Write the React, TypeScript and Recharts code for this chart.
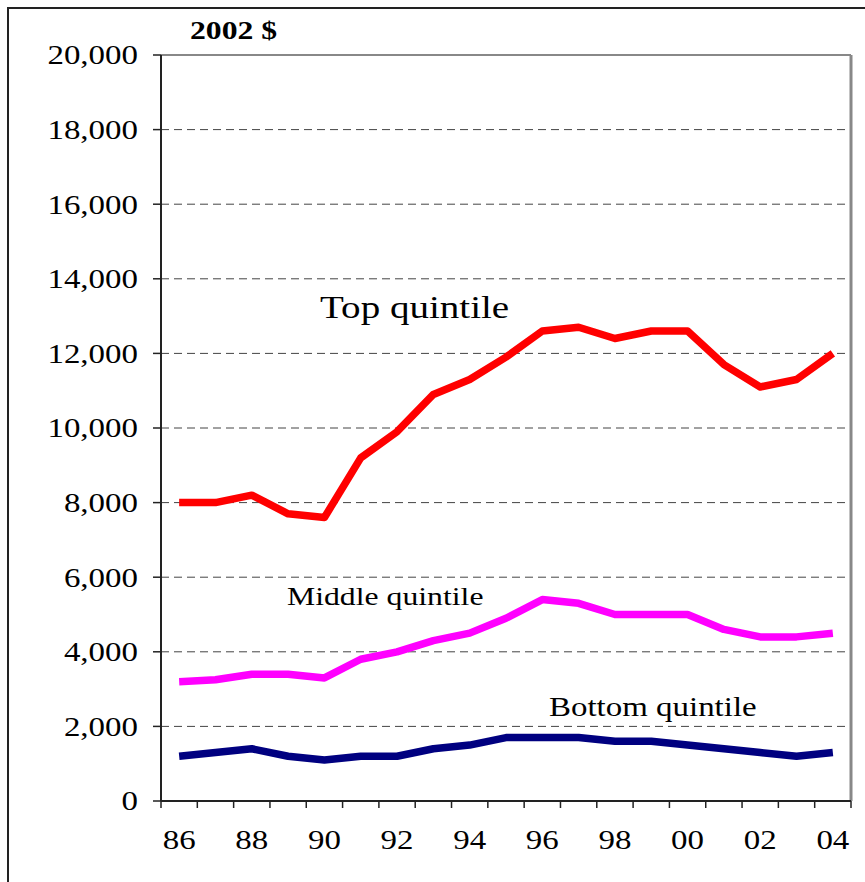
import React from 'react'
import { LineChart, Line, XAxis, YAxis, CartesianGrid, ReferenceLine } from 'recharts'

const years = ['86', '87', '88', '89', '90', '91', '92', '93', '94', '95', '96', '97', '98', '99', '00', '01', '02', '03', '04']
const topQuintile = [8000, 8000, 8200, 7700, 7600, 9200, 9900, 10900, 11300, 11900, 12600, 12700, 12400, 12600, 12600, 11700, 11100, 11300, 12000]
const middleQuintile = [3200, 3250, 3400, 3400, 3300, 3800, 4000, 4300, 4500, 4900, 5400, 5300, 5000, 5000, 5000, 4600, 4400, 4400, 4500]
const bottomQuintile = [1200, 1300, 1400, 1200, 1100, 1200, 1200, 1400, 1500, 1700, 1700, 1700, 1600, 1600, 1500, 1400, 1300, 1200, 1300]
const yTicks = [0, 2000, 4000, 6000, 8000, 10000, 12000, 14000, 16000, 18000, 20000]

const FONT = '"Liberation Serif", "Times New Roman", serif'
const STRETCH = 1.22

const chartData = years.map((y, i) => ({
  i,
  year: y,
  top: topQuintile[i],
  middle: middleQuintile[i],
  bottom: bottomQuintile[i],
}))

// boundaries between years get tick marks, year centres get the labels
const xTicks: number[] = []
for (let k = 0; k <= years.length; k++) {
  xTicks.push(k - 0.5)
  if (k < years.length) xTicks.push(k)
}

const XTick = (props: any) => {
  const { x, y, payload } = props
  const v = payload.value as number
  if (!Number.isInteger(v)) {
    return <line x1={x} x2={x} y1={y} y2={y + 7} stroke="#222" strokeWidth={1.5} />
  }
  if (v % 2 !== 0) return <g />
  return (
    <text
      transform={`translate(${x},${y + 48}) scale(${STRETCH},1)`}
      textAnchor="middle"
      fontFamily={FONT}
      fontSize={27}
      fill="#000"
    >
      {years[v]}
    </text>
  )
}

const YTick = (props: any) => {
  const { x, y, payload } = props
  return (
    <text
      transform={`translate(${x},${y}) scale(${STRETCH},1)`}
      textAnchor="end"
      dy="0.35em"
      fontFamily={FONT}
      fontSize={27}
      fill="#000"
    >
      {Number(payload.value).toLocaleString('en-US')}
    </text>
  )
}

const Note = ({ x, y, size, bold, children }: any) => (
  <text
    transform={`translate(${x},${y}) scale(${STRETCH},1)`}
    fontFamily={FONT}
    fontSize={size}
    fontWeight={bold ? 'bold' : 'normal'}
    fill="#000"
  >
    {children}
  </text>
)

export default function App() {
  return (
    <div style={{ position: 'absolute', left: 0, top: 0, width: 865, height: 882, background: '#fff', overflow: 'hidden' }}>
      <div
        style={{
          position: 'absolute',
          left: 7,
          top: 7,
          right: -10,
          bottom: -10,
          borderTop: '2px solid #222',
          borderLeft: '2px solid #222',
        }}
      />
      <LineChart
        width={865}
        height={882}
        data={chartData}
        margin={{ top: 55, right: 14, bottom: 0, left: 0 }}
        style={{ position: 'absolute', left: 0, top: 0 }}
      >
        <CartesianGrid vertical={false} stroke="#444" strokeDasharray="8 5" />
        <XAxis
          dataKey="i"
          type="number"
          domain={[-0.5, 18.5]}
          ticks={xTicks}
          interval={0}
          height={81}
          tickSize={0}
          tickMargin={0}
          tickLine={false}
          tick={<XTick />}
          axisLine={{ stroke: '#222', strokeWidth: 2 }}
        />
        <YAxis
          domain={[0, 20000]}
          ticks={yTicks}
          interval={0}
          width={161}
          tickSize={8}
          tickMargin={15}
          tickLine={{ stroke: '#222', strokeWidth: 1.5 }}
          tick={<YTick />}
          axisLine={{ stroke: '#222', strokeWidth: 2 }}
        />
        <ReferenceLine y={20000} stroke="#888" strokeWidth={2} />
        <ReferenceLine x={18.5} stroke="#888" strokeWidth={3} />
        <Line dataKey="top" stroke="#FF0000" strokeWidth={7.5} dot={false} isAnimationActive={false} strokeLinejoin="round" />
        <Line dataKey="middle" stroke="#FF00FF" strokeWidth={7.5} dot={false} isAnimationActive={false} strokeLinejoin="round" />
        <Line dataKey="bottom" stroke="#000080" strokeWidth={7.5} dot={false} isAnimationActive={false} strokeLinejoin="round" />
      </LineChart>
      <svg width={865} height={882} style={{ position: 'absolute', left: 0, top: 0, pointerEvents: 'none' }}>
        <Note x={190} y={39} size={26} bold>2002 $</Note>
        <Note x={320} y={318} size={32}>Top quintile</Note>
        <Note x={287} y={605} size={26}>Middle quintile</Note>
        <Note x={549} y={716} size={27}>Bottom quintile</Note>
      </svg>
    </div>
  )
}
